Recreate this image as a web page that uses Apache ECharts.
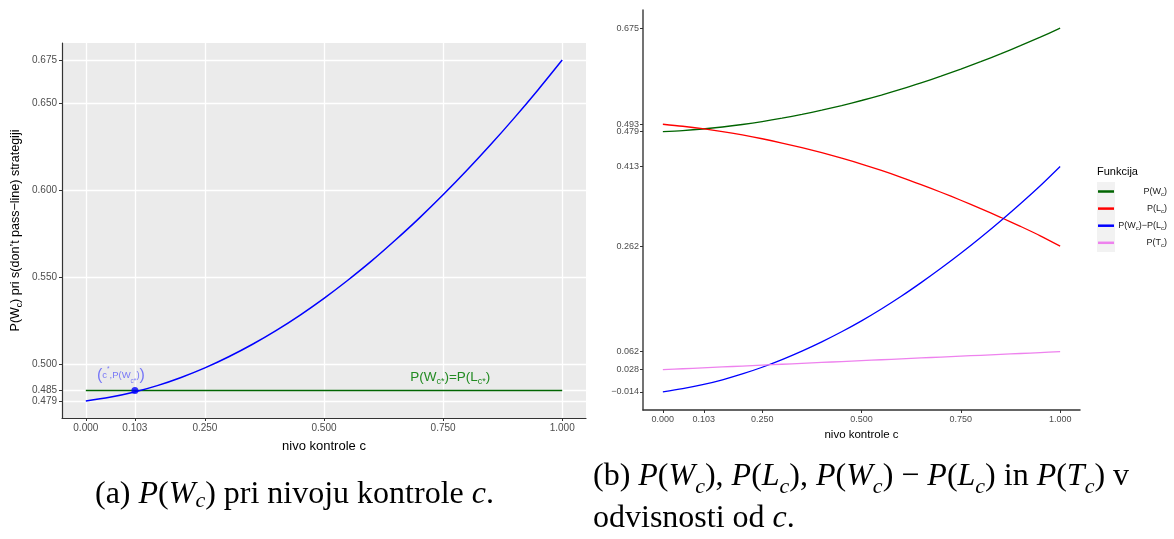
<!DOCTYPE html>
<html>
<head>
<meta charset="utf-8">
<script src="https://cdn.jsdelivr.net/npm/echarts@6.0.0/dist/echarts.min.js"></script>
<style>
  html, body { margin: 0; padding: 0; background: #fff; }
  #main { width: 1174px; height: 539px; }
</style>
</head>
<body>
<div id="main"></div>
<script>
// nivo kontrole c
const cVals = [0, 0.05, 0.1, 0.15, 0.2, 0.25, 0.3, 0.35, 0.4, 0.45, 0.5,
  0.55, 0.6, 0.65, 0.7, 0.75, 0.8, 0.85, 0.9, 0.95, 1]
// P(W_c)
const pW = [0.479, 0.4811, 0.4840, 0.4878, 0.4925, 0.4980, 0.5044, 0.5116, 0.5196, 0.5284, 0.5380,
  0.5484, 0.5595, 0.5715, 0.5841, 0.5975, 0.6116, 0.6264, 0.6419, 0.6581, 0.675]
// P(L_c)
const pL = [0.493, 0.4892, 0.4846, 0.4791, 0.4727, 0.4655, 0.4574, 0.4485, 0.4390, 0.4287, 0.4176,
  0.4055, 0.3925, 0.3786, 0.3641, 0.3490, 0.3332, 0.3167, 0.2995, 0.2816, 0.262]
// P(W_c) - P(L_c)
const pD = [-0.014, -0.0081, -0.0006, 0.0087, 0.0198, 0.0325, 0.0470, 0.0631, 0.0806, 0.0997, 0.1204,
  0.1429, 0.1670, 0.1929, 0.2200, 0.2485, 0.2784, 0.3097, 0.3424, 0.3765, 0.413]
// P(T_c)
const pT = [0.028, 0.0297, 0.0314, 0.0331, 0.0348, 0.0365, 0.0382, 0.0399, 0.0416, 0.0433, 0.0450,
  0.0467, 0.0484, 0.0501, 0.0518, 0.0535, 0.0552, 0.0569, 0.0586, 0.0603, 0.062]
// tocka c*
const cStar = 0.103
const pStar = 0.485
// oznake osi
const xTicks = [0, 0.103, 0.25, 0.5, 0.75, 1]
const yTicksA = [0.479, 0.485, 0.5, 0.55, 0.6, 0.65, 0.675]
const yTicksB = [-0.014, 0.028, 0.062, 0.262, 0.413, 0.479, 0.493, 0.675]

const pairs = (ys) => cVals.map((c, i) => [c, ys[i]])
const fmt = (v) => v.toFixed(3).replace('-', '\u2212')

const chart = echarts.init(document.getElementById('main'))

const sans = 'Liberation Sans, Arial, sans-serif'
const serif = 'Liberation Serif, DejaVu Serif, serif'

function xAxisOf (grid, gap, nameSize, labelSize) {
  return {
    type: 'value',
    gridIndex: grid,
    min: -0.05,
    max: 1.05,
    name: 'nivo kontrole c',
    nameLocation: 'middle',
    nameGap: gap,
    nameTextStyle: { fontFamily: sans, fontSize: nameSize, color: '#000' },
    axisLine: { show: true, onZero: false, lineStyle: { color: '#333', width: grid === 0 ? 1.2 : 1.5 } },
    axisTick: { show: true, length: 3, customValues: xTicks, lineStyle: { color: '#333' } },
    axisLabel: { customValues: xTicks, formatter: fmt, fontFamily: sans, fontSize: labelSize, color: '#4d4d4d', margin: 5 },
    splitLine: { show: grid === 0, lineStyle: { color: '#fff', width: 1.3 } }
  }
}

// legenda (b)
const legendNames = {
  W: '{a|P(W}{s|c}{a|)}',
  L: '{a|P(L}{s|c}{a|)}',
  D: '{a|P(W}{s|c}{a|)\u2212P(L}{s|c}{a|)}',
  T: '{a|P(T}{s|c}{a|)}'
}

const capRich = (lh, subH) => ({
  n: { fontFamily: serif, fontSize: 32, lineHeight: lh, fill: '#000' },
  i: { fontFamily: serif, fontStyle: 'italic', fontSize: 32, lineHeight: lh, fill: '#000' },
  si: { fontFamily: serif, fontStyle: 'italic', fontSize: 22, lineHeight: subH, verticalAlign: 'bottom', fill: '#000' }
})

const blueTxt = 'rgba(40,40,255,0.75)'

const option = {
  animation: false,
  backgroundColor: '#fff',
  grid: [
    { left: 62, right: 588, top: 43, bottom: 121, show: true, backgroundColor: '#ebebeb', borderWidth: 0 },
    { left: 643, right: 94, top: 10, bottom: 129 }
  ],
  xAxis: [xAxisOf(0, 22, 13, 10), xAxisOf(1, 17, 11.5, 9)],
  yAxis: [
    {
      type: 'value',
      gridIndex: 0,
      min: 0.4692,
      max: 0.6848,
      name: '{n|P(W}{s|c}{n|) pri s(don\u2019t pass\u2212line) strategiji}',
      nameLocation: 'middle',
      nameRotate: 90,
      nameGap: 38,
      nameTextStyle: {
        rich: {
          n: { fontFamily: sans, fontSize: 12.5, color: '#000', lineHeight: 16 },
          s: { fontFamily: sans, fontSize: 8.5, color: '#000', lineHeight: 9, verticalAlign: 'bottom' }
        }
      },
      axisLine: { show: true, onZero: false, lineStyle: { color: '#333', width: 1.2 } },
      axisTick: { show: true, length: 3, customValues: yTicksA, lineStyle: { color: '#333' } },
      axisLabel: { customValues: yTicksA, formatter: fmt, fontFamily: sans, fontSize: 10, color: '#4d4d4d', margin: 5 },
      splitLine: { show: true, lineStyle: { color: '#fff', width: 1.3 } }
    },
    {
      type: 'value',
      gridIndex: 1,
      min: -0.0485,
      max: 0.7095,
      axisLine: { show: true, onZero: false, lineStyle: { color: '#444', width: 1.5 } },
      axisTick: { show: true, length: 3, customValues: yTicksB, lineStyle: { color: '#333' } },
      axisLabel: { customValues: yTicksB, formatter: fmt, fontFamily: sans, fontSize: 9, color: '#4d4d4d', margin: 4 },
      splitLine: { show: false }
    }
  ],
  legend: {
    data: ['W', 'L', 'D', 'T'],
    orient: 'vertical',
    left: 1098,
    top: 187,
    padding: 0,
    icon: 'rect',
    itemWidth: 16,
    itemHeight: 2.5,
    itemGap: 6.6,
    selectedMode: false,
    formatter: (name) => legendNames[name],
    textStyle: {
      width: 48,
      rich: {
        a: { fontFamily: sans, fontSize: 9, color: '#1a1a1a', lineHeight: 12, align: 'right' },
        s: { fontFamily: sans, fontSize: 6, color: '#1a1a1a', lineHeight: 6, align: 'right', verticalAlign: 'bottom' }
      }
    }
  },
  graphic: [
    { type: 'rect', left: 1097, top: 182, shape: { width: 18, height: 70 }, style: { fill: '#f2f2f2' }, z: -1 },
    { type: 'text', left: 1097, top: 166, style: { text: 'Funkcija', font: '11px ' + sans, fill: '#000' } },
    {
      type: 'text', left: 95, top: 479,
      style: {
        text: '{n|(a) }{i|P}{n|(}{i|W}{si|c}{n|) pri nivoju kontrole }{i|c}{n|.}',
        rich: capRich(34, 16)
      }
    },
    {
      type: 'text', left: 593, top: 461,
      style: {
        text: '{n|(b) }{i|P}{n|(}{i|W}{si|c}{n|), }{i|P}{n|(}{i|L}{si|c}{n|), }{i|P}{n|(}{i|W}{si|c}{n|) \u2212 }{i|P}{n|(}{i|L}{si|c}{n|) in }{i|P}{n|(}{i|T}{si|c}{n|) v}\n{n|odvisnosti od }{i|c}{n|.}',
        rich: capRich(42, 24)
      }
    }
  ],
  series: [
    {
      name: 'Pw_a',
      type: 'line',
      xAxisIndex: 0,
      yAxisIndex: 0,
      data: pairs(pW),
      showSymbol: false,
      smooth: 0.3,
      lineStyle: { color: '#0000ff', width: 1.5 },
      z: 3
    },
    {
      name: 'enakost',
      type: 'line',
      xAxisIndex: 0,
      yAxisIndex: 0,
      data: [[xTicks[0], pStar], [xTicks[xTicks.length - 1], pStar]],
      showSymbol: false,
      lineStyle: { color: '#006400', width: 1.5 },
      z: 2,
      markPoint: {
        symbol: 'circle',
        symbolSize: 0,
        data: [{ coord: [0.765, pStar] }],
        label: {
          show: true,
          position: 'top',
          distance: 5,
          formatter: '{g|P(W}{s|c*}{g|)=P(L}{s|c*}{g|)}',
          rich: {
            g: { fontFamily: sans, fontSize: 13.5, color: '#228b22', lineHeight: 16 },
            s: { fontFamily: sans, fontSize: 9, color: '#228b22', lineHeight: 9, verticalAlign: 'bottom' }
          }
        }
      }
    },
    {
      name: 'cstar',
      type: 'scatter',
      xAxisIndex: 0,
      yAxisIndex: 0,
      data: [[cStar, pStar]],
      symbolSize: 7,
      itemStyle: { color: '#0000ff' },
      z: 4,
      label: {
        show: true,
        position: 'top',
        distance: 2,
        offset: [-14, 0],
        formatter: '{p|(}{t|c}{u|*}{t|,P(W}{s|c*}{t|)}{p|)}',
        rich: {
          p: { fontFamily: sans, fontSize: 16, color: blueTxt, lineHeight: 19 },
          t: { fontFamily: sans, fontSize: 9.5, color: blueTxt, lineHeight: 19 },
          u: { fontFamily: sans, fontSize: 6.5, color: blueTxt, lineHeight: 13, verticalAlign: 'top' },
          s: { fontFamily: sans, fontSize: 6.5, color: blueTxt, lineHeight: 11, verticalAlign: 'bottom' }
        }
      }
    },
    {
      name: 'W', type: 'line', xAxisIndex: 1, yAxisIndex: 1, data: pairs(pW),
      showSymbol: false, smooth: 0.3, color: '#006400', lineStyle: { width: 1.3 }
    },
    {
      name: 'L', type: 'line', xAxisIndex: 1, yAxisIndex: 1, data: pairs(pL),
      showSymbol: false, smooth: 0.3, color: '#ff0000', lineStyle: { width: 1.3 }
    },
    {
      name: 'D', type: 'line', xAxisIndex: 1, yAxisIndex: 1, data: pairs(pD),
      showSymbol: false, smooth: 0.3, color: '#0000ff', lineStyle: { width: 1.3 }
    },
    {
      name: 'T', type: 'line', xAxisIndex: 1, yAxisIndex: 1, data: pairs(pT),
      showSymbol: false, smooth: 0.3, color: '#ee82ee', lineStyle: { width: 1.3 }
    }
  ]
}

chart.setOption(option)
</script>
</body>
</html>
